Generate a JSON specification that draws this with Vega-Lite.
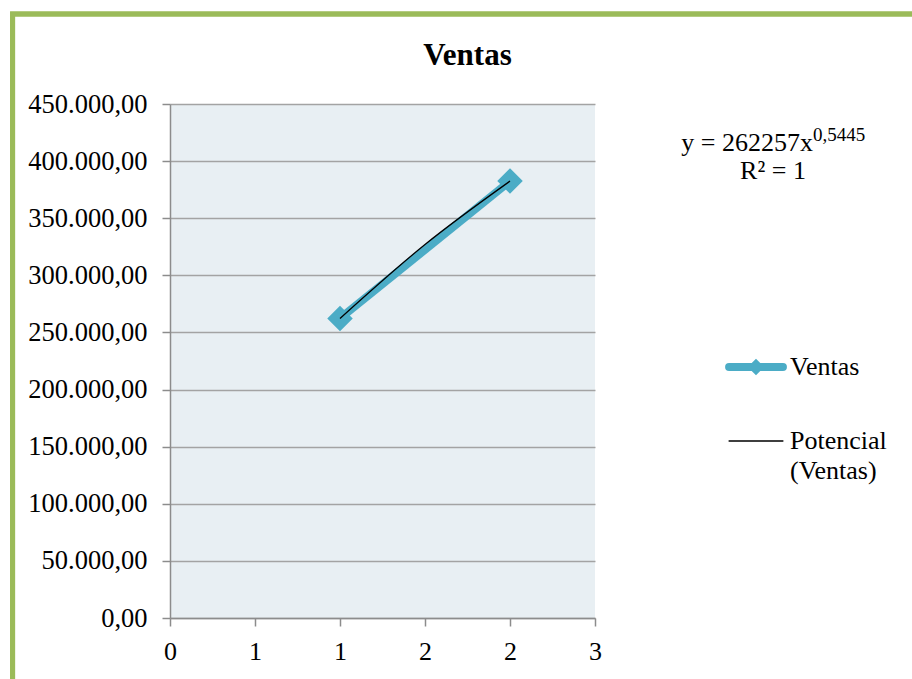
{
  "$schema": "https://vega.github.io/schema/vega-lite/v6.json",
  "autosize": {"type": "none"},
  "width": 425,
  "height": 514,
  "padding": {"left": 170, "top": 104, "right": 317, "bottom": 61},
  "background": "white",
  "title": {"text": "Ventas", "font": "Liberation Serif", "fontSize": 31, "fontWeight": "bold", "color": "black", "anchor": "middle", "dx": 85, "offset": -85, "baseline": "alphabetic"},
  "datasets": {
    "ventas": [
      {"x": 1, "y": 262257, "serie": "Ventas"},
      {"x": 2, "y": 382500, "serie": "Ventas"}
    ],
    "trend": [
      {"x": 1, "y": 262257, "serie": "Potencial (Ventas)"},
      {"x": 1.5, "y": 327000, "serie": "Potencial (Ventas)"},
      {"x": 2, "y": 382500, "serie": "Potencial (Ventas)"}
    ]
  },
  "layer": [
    {
      "data": {"name": "ventas"},
      "mark": {"type": "rect", "fill": null, "stroke": "#9BBB59", "strokeWidth": 5, "clip": false},
      "encoding": {
        "x": {"datum": -0.926, "type": "quantitative"},
        "x2": {"datum": 5.5},
        "y": {"datum": 528800, "type": "quantitative"},
        "y2": {"datum": -150000}
      }
    },
    {
      "data": {"name": "ventas"},
      "mark": {"type": "line", "strokeWidth": 8},
      "encoding": {
        "x": {"field": "x", "type": "quantitative", "scale": {"domain": [0, 2.5], "nice": false, "zero": false},
          "axis": {"values": [0, 0.5, 1, 1.5, 2, 2.5], "labelExpr": "round(datum.value)", "grid": false, "title": null,
            "labelFont": "Liberation Serif", "labelFontSize": 26, "labelColor": "black", "labelPadding": 12,
            "tickSize": 8, "tickColor": "#8C8C8C", "tickWidth": 1.5, "domainColor": "#8C8C8C", "domainWidth": 1.5, "labelFlush": false}},
        "y": {"field": "y", "type": "quantitative", "scale": {"domain": [0, 450000], "nice": false, "zero": false},
          "axis": {"values": [0, 50000, 100000, 150000, 200000, 250000, 300000, 350000, 400000, 450000], "format": ",.2f", "title": null,
            "grid": true, "gridColor": "#A3A3A3", "gridWidth": 1.5,
            "labelFont": "Liberation Serif", "labelFontSize": 26.5, "labelColor": "black", "labelPadding": 15,
            "tickSize": 8, "tickColor": "#8C8C8C", "tickWidth": 1.5, "domainColor": "#8C8C8C", "domainWidth": 1.5, "labelFlush": false}},
        "color": {"field": "serie", "type": "nominal",
          "scale": {"domain": ["Ventas", "Potencial (Ventas)"], "range": ["#4BACC6", "#000000"]},
          "legend": {"title": null, "orient": "none", "legendX": 573, "legendY": 250, "padding": 0,
            "labelFont": "Liberation Serif", "labelFontSize": 26, "labelColor": "black", "labelLimit": 0,
            "labelOffset": 21, "rowPadding": 42, "symbolSize": 2900, "symbolType": "stroke",
            "labelExpr": "datum.label == 'Potencial (Ventas)' ? ['Potencial', '(Ventas)'] : datum.label",
            "encode": {
              "labels": {"update": {"lineHeight": {"value": 30}}},
              "symbols": {"update": {
              "strokeWidth": {"signal": "datum.value == 'Ventas' ? 8 : 1.3"},
              "strokeCap": {"value": "round"},
              "shape": {"signal": "datum.value == 'Ventas' ? 'M-1,0L1,0M-0.1,0L0,-0.1L0.1,0L0,0.1Z' : 'stroke'"},
              "fill": {"signal": "datum.value == 'Ventas' ? '#4BACC6' : 'transparent'"}
            }}}}}
      }
    },
    {
      "data": {"name": "ventas"},
      "mark": {"type": "point", "shape": "diamond", "filled": true, "size": 650, "opacity": 1, "color": "#4BACC6"},
      "encoding": {
        "x": {"field": "x", "type": "quantitative"},
        "y": {"field": "y", "type": "quantitative"}
      }
    },
    {
      "data": {"name": "trend"},
      "mark": {"type": "line", "strokeWidth": 1.3, "interpolate": "monotone"},
      "encoding": {
        "x": {"field": "x", "type": "quantitative"},
        "y": {"field": "y", "type": "quantitative"},
        "color": {"field": "serie", "type": "nominal"}
      }
    },
    {
      "data": {"values": [{}]},
      "mark": {"type": "text", "text": "y = 262257x", "font": "Liberation Serif", "fontSize": 26, "align": "right", "baseline": "alphabetic", "color": "black"},
      "encoding": {"x": {"datum": 3.782, "type": "quantitative"}, "y": {"datum": 408500, "type": "quantitative"}}
    },
    {
      "data": {"values": [{}]},
      "mark": {"type": "text", "text": "0,5445", "font": "Liberation Serif", "fontSize": 19, "align": "left", "baseline": "alphabetic", "color": "black", "dy": -10},
      "encoding": {"x": {"datum": 3.782, "type": "quantitative"}, "y": {"datum": 408500, "type": "quantitative"}}
    },
    {
      "data": {"values": [{}]},
      "mark": {"type": "text", "text": "R² = 1", "font": "Liberation Serif", "fontSize": 26, "align": "center", "baseline": "alphabetic", "color": "black"},
      "encoding": {"x": {"datum": 3.547, "type": "quantitative"}, "y": {"datum": 384500, "type": "quantitative"}}
    }
  ],
  "config": {
    "view": {"fill": "#E8EFF3", "stroke": null},
    "locale": {"number": {"decimal": ",", "thousands": ".", "grouping": [3], "currency": ["", " €"]}}
  }
}
